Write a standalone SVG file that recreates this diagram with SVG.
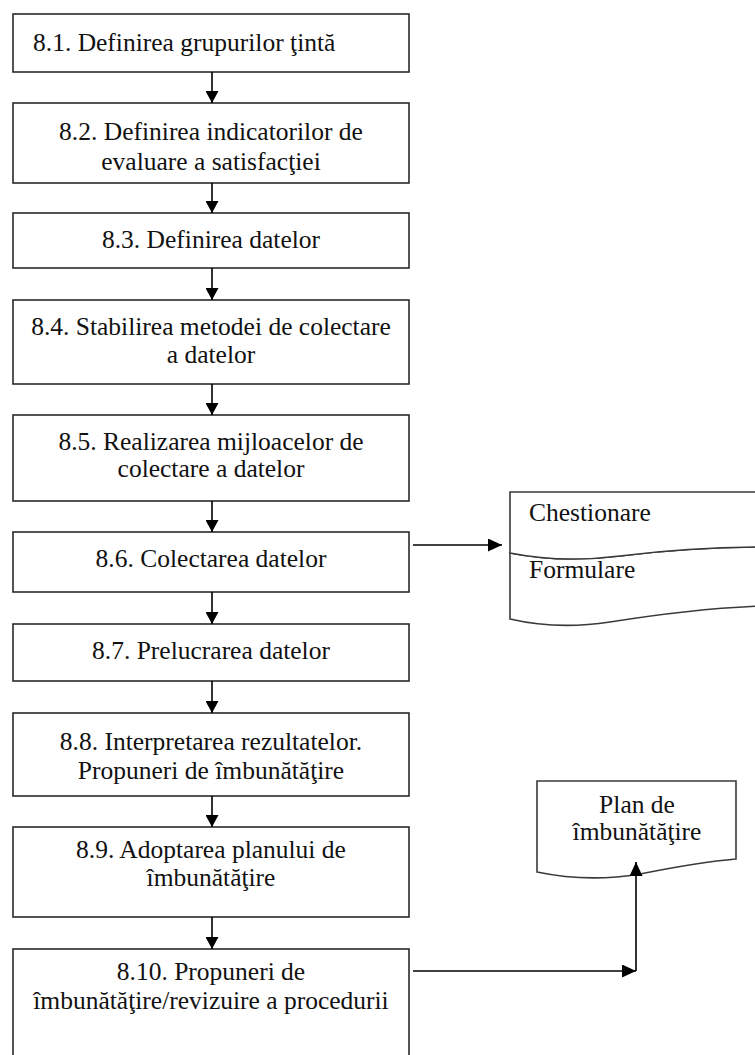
<svg xmlns="http://www.w3.org/2000/svg" width="755" height="1055" viewBox="0 0 755 1055">
<style>
.box{fill:#fff;stroke:#2a2a2a;stroke-width:1.6}
.doc{fill:#fff;stroke:#3a3a3a;stroke-width:1.6}
text{font-family:'Liberation Serif','Times New Roman',serif;font-size:25.5px;fill:#111}
.c{text-anchor:middle}
.ln{stroke:#000;stroke-width:1.6;fill:none}
</style>
<defs>
<marker id="ah" viewBox="0 0 12 13" refX="12" refY="6.5" markerWidth="12" markerHeight="13" markerUnits="userSpaceOnUse" orient="auto">
<path d="M0,0 L12,6.5 L0,13 Z" fill="#000"/>
</marker>
<marker id="ahw" viewBox="0 0 14 13" refX="14" refY="6.5" markerWidth="14" markerHeight="13" markerUnits="userSpaceOnUse" orient="auto">
<path d="M0,0 L14,6.5 L0,13 Z" fill="#000"/>
</marker>
</defs>
<rect width="755" height="1055" fill="#fff"/>

<g id="n1"><rect class="box" x="13" y="14" width="396" height="58"/>
<text x="33" y="51">8.1. Definirea grupurilor ţintă</text></g>
<g id="n2"><rect class="box" x="13" y="103" width="396" height="80"/>
<text class="c" x="211" y="140">8.2. Definirea indicatorilor de</text>
<text class="c" x="211" y="170">evaluare a satisfacţiei</text></g>
<g id="n3"><rect class="box" x="13" y="213" width="396" height="55"/>
<text class="c" x="211" y="248">8.3. Definirea datelor</text></g>
<g id="n4"><rect class="box" x="13" y="300" width="396" height="84"/>
<text class="c" x="211" y="335">8.4. Stabilirea metodei de colectare</text>
<text class="c" x="211" y="363">a datelor</text></g>
<g id="n5"><rect class="box" x="13" y="415" width="396" height="86"/>
<text class="c" x="211" y="450">8.5. Realizarea mijloacelor de</text>
<text class="c" x="211" y="477">colectare a datelor</text></g>
<g id="n6"><rect class="box" x="13" y="532" width="396" height="60"/>
<text class="c" x="211" y="567">8.6. Colectarea datelor</text></g>
<g id="n7"><rect class="box" x="13" y="624" width="396" height="57"/>
<text class="c" x="211" y="659">8.7. Prelucrarea datelor</text></g>
<g id="n8"><rect class="box" x="13" y="713" width="396" height="83"/>
<text class="c" x="211" y="750">8.8. Interpretarea rezultatelor.</text>
<text class="c" x="211" y="779">Propuneri de îmbunătăţire</text></g>
<g id="n9"><rect class="box" x="13" y="827" width="396" height="90"/>
<text class="c" x="211" y="858">8.9. Adoptarea planului de</text>
<text class="c" x="211" y="886">îmbunătăţire</text></g>
<g id="n10"><rect class="box" x="13" y="949" width="396" height="130"/>
<text class="c" x="211" y="980">8.10. Propuneri de</text>
<text class="c" x="211" y="1009">îmbunătăţire/revizuire a procedurii</text></g>

<g id="docs">
<path class="doc" d="M510,553 L510,619 C540,626 570,628 610,622 C660,614 710,608 760,606 L760,547 C710,547 660,551 620,556 C580,561 545,560 510,553 Z"/>
<path class="doc" d="M510,492 L760,492 L760,547 C710,547 660,551 620,556 C580,561 545,560 510,553 Z"/>
<text x="529" y="521">Chestionare</text>
<text x="529" y="578">Formulare</text>
</g>

<g id="plan">
<path class="doc" d="M537,781 L736,781 L736,859 C700,862 670,868 640,874 C610,879 575,880 537,872 Z"/>
<text class="c" x="637" y="813">Plan de</text>
<text class="c" x="637" y="840">îmbunătăţire</text>
</g>

<g id="connectors">
<line class="ln" x1="212" y1="72" x2="212" y2="103" marker-end="url(#ah)"/>
<line class="ln" x1="212" y1="183" x2="212" y2="213" marker-end="url(#ah)"/>
<line class="ln" x1="212" y1="268" x2="212" y2="300" marker-end="url(#ah)"/>
<line class="ln" x1="212" y1="384" x2="212" y2="415" marker-end="url(#ah)"/>
<line class="ln" x1="212" y1="501" x2="212" y2="532" marker-end="url(#ah)"/>
<line class="ln" x1="212" y1="592" x2="212" y2="624" marker-end="url(#ah)"/>
<line class="ln" x1="212" y1="681" x2="212" y2="713" marker-end="url(#ah)"/>
<line class="ln" x1="212" y1="796" x2="212" y2="827" marker-end="url(#ah)"/>
<line class="ln" x1="212" y1="917" x2="212" y2="949" marker-end="url(#ah)"/>
<line class="ln" x1="413" y1="545" x2="502" y2="545" marker-end="url(#ahw)"/>
<line class="ln" x1="413" y1="971" x2="636" y2="971" marker-end="url(#ahw)"/>
<line class="ln" x1="636" y1="971" x2="636" y2="862" marker-end="url(#ahw)"/>
</g>
</svg>
